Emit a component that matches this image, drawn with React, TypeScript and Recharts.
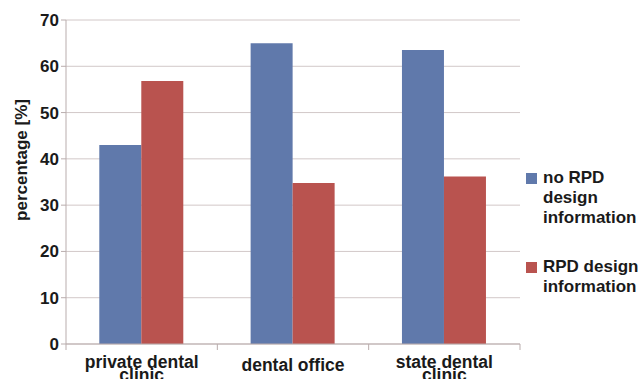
import React from 'react';
import { BarChart, Bar, XAxis, YAxis, CartesianGrid } from 'recharts';

const categories = ['private dental\nclinic', 'dental office', 'state dental\nclinic'];
const noInfo = [43, 65, 63.5];
const withInfo = [56.8, 34.8, 36.2];
const yTicks = [0, 10, 20, 30, 40, 50, 60, 70];
const seriesNames = ['no RPD design information', 'RPD design information'];
const legendLines = [['no RPD', 'design', 'information'], ['RPD design', 'information']];

const data = categories.map((c, i) => ({ name: c, a: noInfo[i], b: withInfo[i] }));

const BLUE = '#6079ab';
const RED = '#b9534f';
const GRID = '#d2c8c8';
const AXIS = '#b9adad';
const FONT = '"Liberation Sans", Arial, Helvetica, sans-serif';

const XTick = (props: any) => {
  const { x, y, payload, index } = props;
  const off = payload && payload.offset ? payload.offset : 75.5;
  const lines = String(payload.value).split('\n');
  const last = index === categories.length - 1;
  return (
    <g>
      <line x1={x - off} x2={x - off} y1={y - 8} y2={y - 2} stroke={AXIS} />
      {last && <line x1={x + off} x2={x + off} y1={y - 8} y2={y - 2} stroke={AXIS} />}
      <text
        x={x}
        y={lines.length > 1 ? y + 16 : y + 19}
        textAnchor="middle"
        fontFamily={FONT}
        fontWeight="bold"
        fontSize={17.5}
        fill="#1a1a1a"
      >
        {lines.map((l, i) => (
          <tspan key={i} x={x} dy={i === 0 ? 0 : 13}>
            {l}
          </tspan>
        ))}
      </text>
    </g>
  );
};

const YLabel = (props: any) => {
  const vb = props.viewBox || {};
  const cx = 21;
  const cy = (vb.y || 20) + (vb.height || 324) / 2 - 22;
  return (
    <text
      x={cx}
      y={cy}
      transform={`rotate(-90 ${cx} ${cy})`}
      textAnchor="middle"
      dominantBaseline="central"
      fontFamily={FONT}
      fontWeight="bold"
      fontSize={17}
      fill="#1a1a1a"
    >
      percentage [%]
    </text>
  );
};

const LegendBox = () => (
  <div
    style={{
      position: 'absolute',
      left: 526,
      top: 168,
      fontFamily: FONT,
      fontWeight: 'bold',
      fontSize: 17,
      color: '#1a1a1a',
      lineHeight: '20px',
    }}
  >
    {legendLines.map((lines, i) => (
      <div key={i} title={seriesNames[i]} style={{ display: 'flex', alignItems: 'flex-start', marginBottom: i === 0 ? 29 : 0 }}>
        <div
          style={{
            width: 11,
            height: 11,
            background: i === 0 ? BLUE : RED,
            marginTop: 5,
            marginRight: 6,
            flexShrink: 0,
          }}
        />
        <div style={{ whiteSpace: 'nowrap' }}>
          {lines.map((l, j) => (
            <div key={j}>{l}</div>
          ))}
        </div>
      </div>
    ))}
  </div>
);

export default function App() {
  return (
    <div style={{ position: 'absolute', left: 0, top: 0, width: 643, height: 379, background: '#fff', overflow: 'hidden' }}>
      <BarChart
        width={643}
        height={379}
        data={data}
        margin={{ top: 20, right: 123, bottom: 0, left: 0 }}
        barCategoryGap="22%"
        barGap={0}
      >
        <CartesianGrid vertical={false} stroke={GRID} />
        <XAxis
          dataKey="name"
          stroke={AXIS}
          tickLine={false}
          tick={<XTick />}
          interval={0}
          height={35}
        />
        <YAxis
          width={66}
          domain={[0, 70]}
          ticks={yTicks}
          stroke={AXIS}
          tickSize={5}
          tick={{ fontFamily: FONT, fontWeight: 'bold', fontSize: 17, fill: '#1a1a1a' }}
          label={<YLabel />}
        />
        <Bar dataKey="a" name={seriesNames[0]} fill={BLUE} isAnimationActive={false} />
        <Bar dataKey="b" name={seriesNames[1]} fill={RED} isAnimationActive={false} />
      </BarChart>
      <LegendBox />
    </div>
  );
}
